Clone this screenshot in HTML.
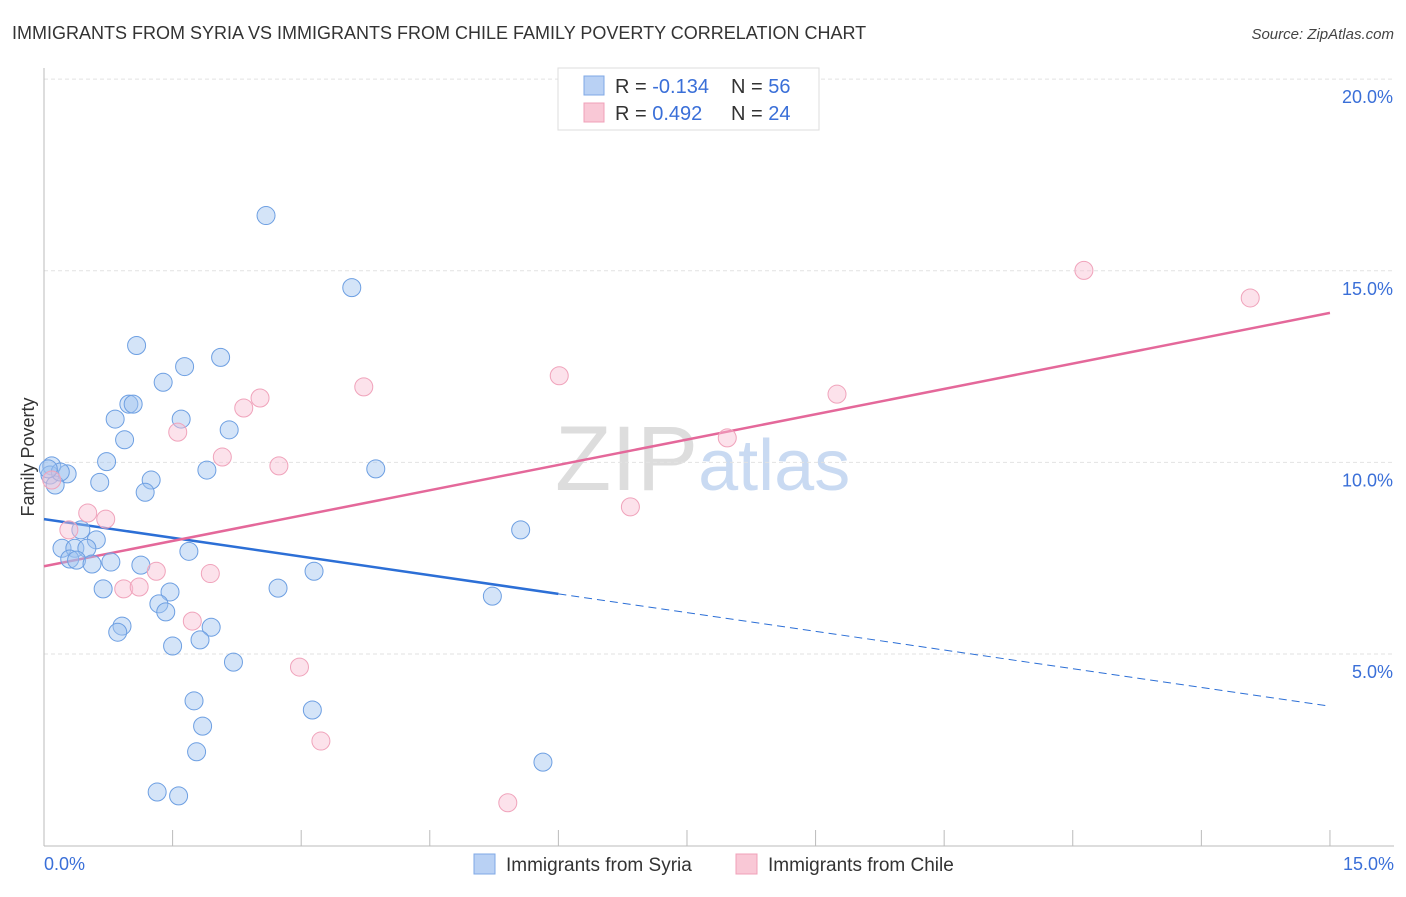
<!DOCTYPE html>
<html><head><meta charset="utf-8"><style>
body{margin:0;background:#fff;font-family:"Liberation Sans",sans-serif;}
svg text{font-family:"Liberation Sans",sans-serif;}
</style></head><body>
<svg id="chart" width="1406" height="892" xmlns="http://www.w3.org/2000/svg">
<text x="12" y="39" font-size="18" fill="#333">IMMIGRANTS FROM SYRIA VS IMMIGRANTS FROM CHILE FAMILY POVERTY CORRELATION CHART</text>
<text x="1394" y="39" font-size="15" fill="#444" font-style="italic" text-anchor="end">Source: ZipAtlas.com</text>
<text x="555" y="490" font-size="92" font-family="Liberation Serif" fill="#ddd">ZIP<tspan fill="#c9daf2" font-family="Liberation Sans" font-size="72">atlas</tspan></text>
<g id="grid"></g>
<line x1="44" y1="68" x2="44" y2="846" stroke="#bbb"/>
<line x1="44" y1="846" x2="1394" y2="846" stroke="#bbb"/>
<g id="ticks"></g>
<text transform="translate(34,457) rotate(-90)" font-size="18" fill="#333" text-anchor="middle">Family Poverty</text>
<text x="44" y="870" font-size="18" fill="#3a6fd8">0.0%</text>
<text x="1394" y="870" font-size="18" fill="#3a6fd8" text-anchor="end">15.0%</text>
<g id="lines"></g>
<g id="points"></g>
<g>
<rect x="558" y="68" width="261" height="62" fill="#fff" stroke="#ddd"/>
<rect x="584" y="76" width="20" height="19" fill="#b9d1f4" stroke="#7fa8e6"/>
<rect x="584" y="103" width="20" height="19" fill="#f9c8d6" stroke="#f0a0b8"/>
<text x="615" y="93" font-size="20" fill="#333">R = <tspan fill="#3a6fd8">-0.134</tspan><tspan x="731">N = </tspan><tspan fill="#3a6fd8">56</tspan></text>
<text x="615" y="120" font-size="20" fill="#333">R = <tspan fill="#3a6fd8"> 0.492</tspan><tspan x="731">N = </tspan><tspan fill="#3a6fd8">24</tspan></text>
</g>
<g>
<rect x="474" y="854" width="21" height="20" fill="#b9d1f4" stroke="#7fa8e6"/>
<text x="506" y="871" font-size="19" fill="#333">Immigrants from Syria</text>
<rect x="736" y="854" width="21" height="20" fill="#f9c8d6" stroke="#f0a0b8"/>
<text x="768" y="871" font-size="19" fill="#333">Immigrants from Chile</text>
</g>
</svg>
<script>
const yTicks=[5,10,15,20];
const yTickLabels=["5.0%","10.0%","15.0%","20.0%"];
const xTicks=[0,1.5,3,4.5,6,7.5,9,10.5,12,13.5,15];
const syriaX=[2.59,3.59,1.08,2.06,1.64,1.39,0.99,1.04,0.83,1.60,0.94,2.16,0.73,0.27,1.90,3.87,1.25,0.65,1.18,5.56,0.43,0.61,0.21,0.36,0.50,0.30,0.38,0.56,0.78,1.13,1.69,3.15,0.69,1.47,2.73,1.34,1.42,5.23,0.91,0.86,1.95,1.50,1.82,2.21,1.75,3.13,1.85,1.78,5.82,1.32,1.57,0.09,0.07,0.13,0.19,0.05];
const syriaY=[16.44,14.56,13.05,12.74,12.50,12.09,11.52,11.52,11.13,11.13,10.59,10.85,10.02,9.70,9.80,9.83,9.54,9.48,9.22,8.24,8.24,7.98,7.76,7.76,7.76,7.48,7.45,7.35,7.40,7.32,7.68,7.16,6.70,6.62,6.72,6.31,6.10,6.51,5.73,5.57,5.70,5.21,5.37,4.79,3.78,3.54,3.12,2.45,2.18,1.40,1.30,9.91,9.67,9.41,9.75,9.83];
const chileX=[12.13,14.07,6.01,3.73,2.52,2.33,9.25,1.56,7.97,2.08,2.74,6.84,0.51,0.72,0.29,1.31,1.94,0.93,1.11,1.73,2.98,3.23,5.41,0.09];
const chileY=[15.01,14.29,12.26,11.97,11.68,11.42,11.78,10.79,10.64,10.14,9.91,8.84,8.68,8.52,8.24,7.16,7.10,6.70,6.75,5.86,4.66,2.73,1.12,9.54];
const syriaLine={x:[0,6.0],y:[8.52,6.57]};
const syriaDash={x:[6.0,15],y:[6.57,3.64]};
const chileLine={x:[0,15],y:[7.29,13.9]};
const NS="http://www.w3.org/2000/svg";
const sx=v=>44+v*85.73, sy=v=>845.7-v*38.33;
function mk(tag,attrs,parent){const e=document.createElementNS(NS,tag);for(const k in attrs)e.setAttribute(k,attrs[k]);document.getElementById(parent).appendChild(e);return e;}
yTicks.forEach((t,i)=>{
 const g=mk('line',{x1:44,x2:1394,y1:sy(t),y2:sy(t),stroke:'#e2e2e2','stroke-dasharray':'4,3'},'grid');
 
 
 const l=mk('text',{x:1393,y:sy(t)+24,'font-size':18,fill:'#3a6fd8','text-anchor':'end'},'ticks');
 l.textContent=yTickLabels[i];
 
 
});
xTicks.forEach(t=>{
 const k=mk('line',{x1:sx(t),x2:sx(t),y1:830,y2:846,stroke:'#bbb'},'ticks');
 
 
});
function line(d,color,dash,name){
 const l=mk('line',{x1:sx(d.x[0]),y1:sy(d.y[0]),x2:sx(d.x[1]),y2:sy(d.y[1]),stroke:color,'stroke-width':dash?1:2.5},'lines');
 if(dash)l.setAttribute('stroke-dasharray','8,5');
 
 
}
line(syriaLine,'#2c6fd6',false,'syria-trend-line');
line(syriaDash,'#2c6fd6',true,'syria-trend-extension');
line(chileLine,'#e4689a',false,'chile-trend-line');
syriaX.forEach((x,i)=>{
 const c=mk('circle',{cx:sx(x),cy:sy(syriaY[i]),r:9,fill:'rgba(160,196,240,0.45)',stroke:'#6d9fe2','stroke-width':1},'points');
 
 
});
chileX.forEach((x,i)=>{
 const c=mk('circle',{cx:sx(x),cy:sy(chileY[i]),r:9,fill:'rgba(248,190,210,0.45)',stroke:'#f0a3bb','stroke-width':1},'points');
 
 
});
</script>
</body></html>
